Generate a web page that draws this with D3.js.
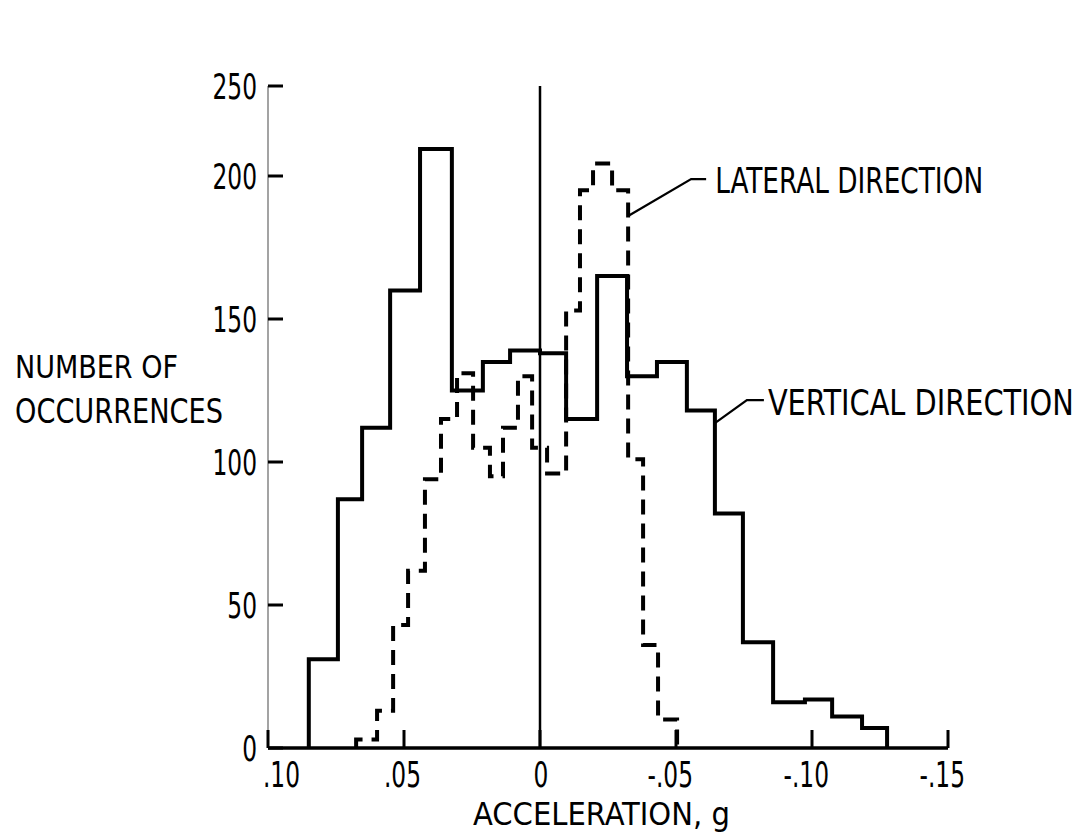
<!DOCTYPE html>
<html>
<head>
<meta charset="utf-8">
<script src="https://cdn.jsdelivr.net/npm/d3@7"></script>
<style>
  body { margin: 0; background: #fff; }
  text { font-family: "DejaVu Sans Condensed", "DejaVu Sans", sans-serif; font-stretch: condensed; fill: #000; }
</style>
</head>
<body>
<svg id="chart" width="1091" height="837"></svg>
<script>
// vertical direction (solid) - bin edges in g and counts
const vertEdges = [0.085, 0.0743, 0.0654, 0.0551, 0.0441, 0.0324, 0.021, 0.011, 0, -0.0096, -0.021, -0.032, -0.043, -0.054, -0.0643, -0.0746, -0.0857, -0.0974, -0.1074, -0.1184, -0.1276]
const vertCounts = [31, 87, 112, 160, 215, 125, 135, 139, 138, 115, 165, 130, 135, 118, 82, 37, 16, 17, 11, 7]

// lateral direction (dashed)
const latEdges = [0.0676, 0.0599, 0.054, 0.0485, 0.0423, 0.0364, 0.0305, 0.0246, 0.0184, 0.0136, 0.0081, 0.0029, -0.0026, -0.0096, -0.0147, -0.0195, -0.0265, -0.0324, -0.0379, -0.0434, -0.0504]
const latCounts = [3, 13, 43, 62, 94, 115, 131, 105, 95, 112, 130, 105, 96, 153, 195, 207, 195, 101, 36, 10]

const xTicks = [0.10, 0.05, 0, -0.05, -0.10, -0.15]
const xTickLabels = ['.10', '.05', '0', '-.05', '-.10', '-.15']
const yTicks = [0, 50, 100, 150, 200, 250]

const svg = d3.select('#chart')

// the drawing is squeezed above 200, so the y scale is piecewise
const x = d3.scaleLinear().domain([0.10, -0.15]).range([268, 948])
const y = d3.scaleLinear().domain([0, 200, 250]).range([748, 176, 86])

// lettering in the original is narrow: squeeze horizontally around the anchor
function narrow (sel, px, py, k) {
  sel.attr('transform', function (d, i) {
    return 'translate(' + px(d, i) + ',' + py(d, i) + ') scale(' + k + ',1)'
  })
}

// put a label at (px, py) squeezed to a given width
function label (px, py, size, w, str) {
  const t = svg.append('text').attr('font-size', size).text(str)
  const k = w / t.node().getComputedTextLength()
  t.attr('transform', 'translate(' + px + ',' + py + ') scale(' + k + ',1)')
  return t
}

function stepPoints (edges, counts) {
  const pts = [[edges[0], 0]]
  counts.forEach((c, i) => pts.push([edges[i], c]))
  pts.push([edges[edges.length - 1], 0])
  return pts
}

const line = d3.line()
  .x(d => x(d[0]))
  .y(d => y(d[1]))
  .curve(d3.curveStepAfter)

// y axis line (faint) and ticks
svg.append('line')
  .attr('x1', x(0.10)).attr('x2', x(0.10))
  .attr('y1', y(250)).attr('y2', y(0))
  .attr('stroke', '#666').attr('stroke-width', 1.2)

svg.selectAll('.ytick')
  .data(yTicks)
  .enter().append('line')
  .attr('x1', x(0.10)).attr('x2', x(0.10) + 15)
  .attr('y1', d => y(d)).attr('y2', d => y(d))
  .attr('stroke', '#000').attr('stroke-width', 3)

svg.selectAll('.ylab')
  .data(yTicks)
  .enter().append('text')
  .attr('dy', '0.36em')
  .attr('text-anchor', 'end')
  .attr('font-size', 36)
  .text(d => d)
  .call(narrow, () => x(0.10) - 11, d => y(d), 0.72)

// x axis
svg.append('line')
  .attr('x1', x(0.10)).attr('x2', x(-0.15))
  .attr('y1', y(0)).attr('y2', y(0))
  .attr('stroke', '#000').attr('stroke-width', 3.5)

svg.selectAll('.xtick')
  .data(xTicks)
  .enter().append('line')
  .attr('x1', d => x(d)).attr('x2', d => x(d))
  .attr('y1', y(0)).attr('y2', y(0) - 18)
  .attr('stroke', '#000').attr('stroke-width', 3)

svg.selectAll('.xlab')
  .data(xTicks)
  .enter().append('text')
  .attr('text-anchor', d => d === 0 ? 'middle' : 'end')
  .attr('font-size', 36)
  .text((d, i) => xTickLabels[i])
  .call(narrow, (d, i) => x(d) + (d === 0 ? 1 : (i === 0 ? 32 : 17)), () => 787, 0.72)

// zero line
svg.append('line')
  .attr('x1', x(0)).attr('x2', x(0))
  .attr('y1', y(250)).attr('y2', y(0))
  .attr('stroke', '#000').attr('stroke-width', 2.5)

// histograms
svg.append('path')
  .attr('d', line(stepPoints(latEdges, latCounts)))
  .attr('fill', 'none')
  .attr('stroke', '#000')
  .attr('stroke-width', 4)
  .attr('stroke-dasharray', '15,9')

svg.append('path')
  .attr('d', line(stepPoints(vertEdges, vertCounts)))
  .attr('fill', 'none')
  .attr('stroke', '#000')
  .attr('stroke-width', 4)

// leaders and labels
const latAt = [x(-0.0324), y(186)]
svg.append('polyline')
  .attr('points', [latAt, [latAt[0] + 63, latAt[1] - 37], [latAt[0] + 78, latAt[1] - 37]].join(' '))
  .attr('fill', 'none').attr('stroke', '#000').attr('stroke-width', 2.2)
label(latAt[0] + 87, 193, 36, 268, 'LATERAL DIRECTION')

const vertAt = [x(-0.0643), y(113.6)]
svg.append('polyline')
  .attr('points', [vertAt, [vertAt[0] + 32, vertAt[1] - 23], [vertAt[0] + 49, vertAt[1] - 23]].join(' '))
  .attr('fill', 'none').attr('stroke', '#000').attr('stroke-width', 2.2)
label(vertAt[0] + 53, 415, 35, 306, 'VERTICAL DIRECTION')

label(15, 378, 32, 163, 'NUMBER OF')
label(15, 423, 34, 208, 'OCCURRENCES')
label(473, 825, 32, 257, 'ACCELERATION,  g')
</script>
</body>
</html>
